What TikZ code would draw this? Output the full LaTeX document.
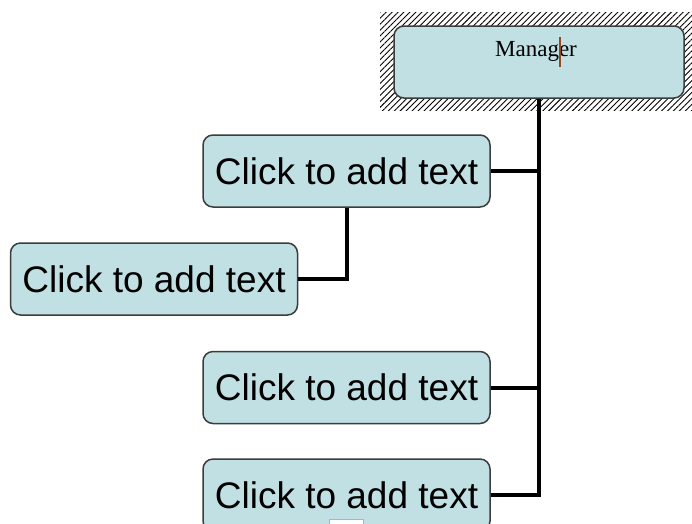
\documentclass[tikz,border=0pt]{standalone}
\usepackage{fontspec}
\newfontfamily\boxfont{Liberation Sans}
\newfontfamily\mgrfont{Liberation Serif}
\usetikzlibrary{patterns.meta}
\definecolor{boxfill}{RGB}{192,224,228}
\definecolor{boxline}{RGB}{60,60,60}
\definecolor{caret}{RGB}{150,70,30}

\begin{document}
\begin{tikzpicture}[x=1pt, y=-1pt,
    member/.style={rectangle, draw=boxline, fill=boxfill, line width=1.5pt, rounded corners=10pt, minimum width=287pt, minimum height=72pt, inner sep=0pt, font=\boxfont\fontsize{37}{40}\selectfont},
    manager/.style={member, minimum width=290pt},
    link/.style={line width=4pt, black}
]
\useasboundingbox (0,0) rectangle (692,523);

% Selection frame round the manager
\fill[pattern={Lines[angle=45, distance=4.2pt, line width=0.9pt]}] (380,12) rectangle (700,110);

% Manager box, text set near its top
\node[manager] (manager) at (539,62) {};
\node[font=\mgrfont\fontsize{23}{26}\selectfont] (mgrtext) at (536,51) {Manager};
\draw[caret, line width=1.5pt] (560,37) -- (560,67);

% Staff boxes
\node[member] (staff1) at (346.5,171) {Click to add text};
\node[member] (assist) at (154,279) {Click to add text};
\node[member] (staff3) at (346.5,387.5) {Click to add text};
\node[member] (staff4) at (346.5,495) {Click to add text};

% Connections
\draw[link] (manager.south) |- (staff4.east);
\draw[link] (staff1.east) -- (staff1.east -| manager.south);
\draw[link] (staff3.east) -- (staff3.east -| manager.south);
\draw[link] (staff1.south) |- (assist.east);

% Handle at the bottom
\draw[gray!60, fill=white] (329,519) rectangle (363,540);

\end{tikzpicture}
\end{document}
